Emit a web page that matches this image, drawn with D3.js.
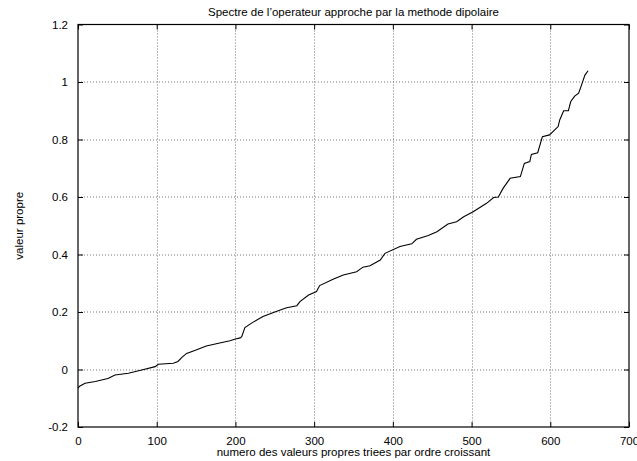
<!DOCTYPE html>
<html>
<head>
<meta charset="utf-8">
<script src="https://cdn.jsdelivr.net/npm/d3@7"></script>
<style>
  body { margin: 0; background: #fff; }
  svg { display: block; font-family: "Liberation Sans", Arial, sans-serif; }
  .grid line { stroke: #777; stroke-dasharray: 1,2; stroke-width: 1; }
</style>
</head>
<body>
<svg id="chart"></svg>
<script>
// chart data
const titleText = "Spectre de l\u2019operateur approche par la methode dipolaire";
const xLabelText = "numero des valeurs propres triees par ordre croissant";
const yLabelText = "valeur propre";

const xTicks = [0, 100, 200, 300, 400, 500, 600, 700];
const yTicks = [-0.2, 0, 0.2, 0.4, 0.6, 0.8, 1, 1.2];
const yTickLabels = ["-0.2", "0", "0.2", "0.4", "0.6", "0.8", "1", "1.2"];

// index of the sorted eigenvalue
const idx = [0, 2, 9, 22, 38, 47, 64, 81, 98, 102, 121, 127, 132, 138, 150, 163, 180, 193, 200, 206, 208, 212,
  222, 235, 250, 265, 278, 282, 293, 303, 307, 324, 337, 354, 362, 371, 384, 390, 409, 424, 430, 445,
  456, 470, 481, 490, 502, 519, 528, 534, 540, 549, 562, 567, 574, 576, 584, 590, 599, 610, 612,
  617, 623, 626, 631, 636, 639, 644, 648];
// eigenvalue
const vals = [-0.065, -0.058, -0.048, -0.042, -0.031, -0.019, -0.013, -0.002, 0.010, 0.018, 0.022, 0.028, 0.042, 0.056, 0.068, 0.082, 0.092, 0.100, 0.106, 0.110, 0.114, 0.146,
  0.164, 0.184, 0.200, 0.215, 0.222, 0.236, 0.259, 0.271, 0.292, 0.314, 0.329, 0.340, 0.356, 0.361, 0.381, 0.404, 0.428, 0.437, 0.453, 0.466,
  0.479, 0.506, 0.514, 0.531, 0.549, 0.578, 0.598, 0.600, 0.630, 0.665, 0.671, 0.717, 0.723, 0.748, 0.754, 0.810, 0.816, 0.845, 0.868,
  0.900, 0.900, 0.932, 0.951, 0.961, 0.984, 1.024, 1.039];

const W = 637, H = 461;
const margin = { top: 24.5, right: 8, bottom: 34, left: 78 };
const width = W - margin.left - margin.right;
const height = H - margin.top - margin.bottom;

const svg = d3.select("#chart").attr("width", W).attr("height", H);
const g = svg.append("g").attr("transform", "translate(" + margin.left + "," + margin.top + ")");

const x = d3.scaleLinear().domain([0, 700]).range([0, width]);
const y = d3.scaleLinear().domain([-0.2, 1.2]).range([height, 0]);

// grid
const grid = g.append("g").attr("class", "grid");
grid.selectAll(".gx").data(xTicks.slice(1, -1)).enter().append("line")
  .attr("x1", d => Math.round(x(d)) + 0.5).attr("x2", d => Math.round(x(d)) + 0.5)
  .attr("y1", 0).attr("y2", height);
grid.selectAll(".gy").data(yTicks.slice(1, -1)).enter().append("line")
  .attr("y1", d => Math.round(y(d)) + 0.5).attr("y2", d => Math.round(y(d)) + 0.5)
  .attr("x1", 0).attr("x2", width);

// axes, gnuplot style: ticks inward on all sides
const tickLen = 5;
const xAxis = d3.axisBottom(x).tickValues(xTicks).tickSize(-tickLen).tickPadding(10).tickFormat(d3.format("d"));
const xAxisTop = d3.axisTop(x).tickValues(xTicks).tickSize(-tickLen).tickFormat("");
const yAxis = d3.axisLeft(y).tickValues(yTicks).tickSize(-tickLen).tickPadding(10)
  .tickFormat((d, i) => yTickLabels[i]);
const yAxisRight = d3.axisRight(y).tickValues(yTicks).tickSize(-tickLen).tickFormat("");

function styleAxis(sel) {
  sel.select(".domain").remove();
  sel.selectAll(".tick line").attr("stroke", "#000");
  sel.selectAll("text").attr("fill", "#000").style("font-size", "11.5px");
}

g.append("g").attr("transform", "translate(0," + height + ")").call(xAxis).call(styleAxis);
g.append("g").call(xAxisTop).call(styleAxis);
g.append("g").call(yAxis).call(styleAxis);
g.append("g").attr("transform", "translate(" + width + ",0)").call(yAxisRight).call(styleAxis);

// frame
g.append("rect").attr("x", 0).attr("y", 0).attr("width", width).attr("height", height)
  .attr("fill", "none").attr("stroke", "#000").attr("stroke-width", 1.2);

// data line
const line = d3.line()
  .x((d, i) => x(idx[i]))
  .y(d => y(d));
g.append("path").datum(vals)
  .attr("d", line)
  .attr("fill", "none")
  .attr("stroke", "#000")
  .attr("stroke-width", 1.1);

// titles
svg.append("text").attr("x", margin.left + width / 2).attr("y", 16)
  .attr("text-anchor", "middle").style("font-size", "11.5px").text(titleText);
svg.append("text").attr("x", margin.left + width / 2).attr("y", 456)
  .attr("text-anchor", "middle").style("font-size", "11.5px").text(xLabelText);
svg.append("text").attr("transform", "translate(23," + (margin.top + height / 2) + ") rotate(-90)")
  .attr("text-anchor", "middle").style("font-size", "11.5px").text(yLabelText);
</script>
</body>
</html>
